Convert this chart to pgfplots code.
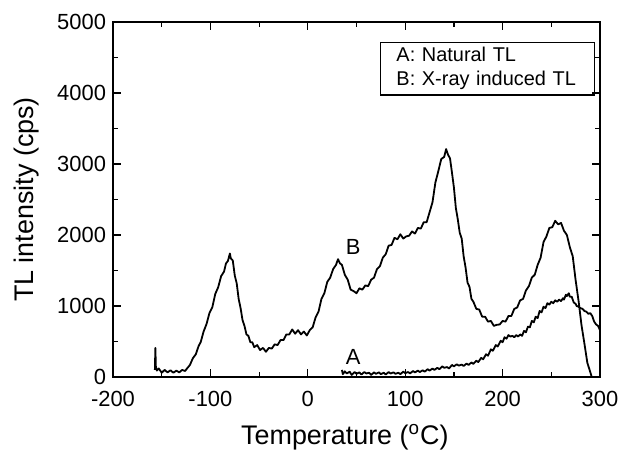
\documentclass[border=0pt]{standalone}
\usepackage{pgfplots}
\pgfplotsset{compat=1.18}
\usepackage{fontspec}
\setmainfont{Liberation Sans}
\begin{document}
\begin{tikzpicture}
\begin{axis}[name=ax,
  scale only axis, width=243.5bp, height=177.5bp,
  xmin=-200, xmax=300, ymin=0, ymax=5000,
  xtick={-200,-100,0,100,200,300},
  ytick={0,1000,2000,3000,4000,5000},
  minor x tick num=1, minor y tick num=1,
  major tick length=4bp, minor tick length=2.5bp,
  tick align=inside, tick pos=both,
  axis line style={line width=0.6bp},
  every tick/.style={line width=0.6bp, black},
  /pgf/number format/assume math mode=true,
  /pgf/number format/1000 sep={},
  ticklabel style={font=\fontsize{11}{13}\selectfont},
  xticklabel style={yshift=-3.5bp},
  xlabel={Temperature ($^{\mathrm{o}}$C)},
  ylabel={TL intensity (cps)},
  every axis x label/.style={at={(axis description cs:0.476,-0.169)},anchor=center,font=\fontsize{13.5}{16}\selectfont},
  every axis y label/.style={at={(axis description cs:-0.177,0.5)},anchor=center,rotate=90,font=\fontsize{13.5}{16}\selectfont},
]
\addplot[black, line width=0.9bp, line join=round] coordinates {
(-157,100) (-156.5,410) (-156,150) (-155,90) (-153,120) (-150,60) (-147,100) (-144,65) (-141,95) (-138,60) (-135,90) (-132,65) (-129,100) (-126,85) (-124,120) (-121,170) (-118,265) (-115,320) (-112,440) (-110,490) (-107,640) (-104,745) (-101,900) (-98,985) (-95,1170) (-92,1265) (-89,1420) (-86,1485) (-84,1600) (-82,1635) (-80,1740) (-79,1670) (-77,1640) (-75,1430) (-73,1320) (-71,1100) (-69,970) (-67,800) (-65,720) (-63,600) (-61,580) (-59,490) (-57,490) (-55,420) (-52,450) (-49,380) (-46,410) (-43,355) (-40,410) (-37,400) (-34,460) (-31,450) (-28,520) (-25,520) (-22,600) (-19,600) (-16,670) (-13,610) (-10,660) (-7,600) (-4,640) (-1,585) (2,660) (5,700) (8,840) (11,920) (14,1100) (17,1180) (20,1340) (23,1400) (26,1520) (29,1580) (31,1660) (33,1600) (35,1580) (38,1440) (41,1370) (44,1230) (47,1210) (50,1180) (53,1250) (56,1230) (59,1290) (62,1280) (65,1370) (68,1400) (71,1520) (74,1560) (77,1680) (80,1730) (83,1850) (86,1860) (89,1960) (92,1940) (95,2010) (98,1950) (101,1980) (104,1990) (107,2050) (110,2020) (113,2100) (116,2090) (119,2180) (122,2180) (125,2320) (128,2460) (131,2740) (134,2900) (137,3070) (140,3100) (142,3210) (144,3130) (146,3080) (148,2880) (150,2670) (152,2380) (154,2220) (156,2030) (158,1950) (160,1700) (162,1540) (164,1330) (166,1270) (168,1100) (170,1060) (173,960) (176,950) (179,850) (182,850) (185,780) (188,790) (191,720) (194,735) (197,740) (200,790) (203,780) (206,860) (209,860) (212,960) (215,980) (218,1080) (221,1100) (224,1220) (227,1280) (230,1400) (233,1440) (236,1580) (239,1680) (242,1900) (245,1980) (248,2100) (251,2110) (254,2200) (257,2150) (260,2170) (263,2060) (266,2000) (269,1830) (272,1700) (275,1360) (278,1070) (281,730) (284,470) (287,200) (290,70) (291.5,0)
};
\addplot[black, line width=0.9bp, line join=round] coordinates {
(35,100) (36,40) (38,80) (40,50) (43,75) (45,30) (48,70) (50,45) (53,65) (55,35) (58,70) (60,50) (63,60) (65,30) (68,65) (70,45) (73,65) (75,40) (78,60) (80,35) (83,70) (85,50) (88,65) (90,45) (93,60) (95,40) (98,75) (100,55) (103,70) (105,50) (108,85) (110,65) (113,90) (115,70) (118,95) (120,75) (123,110) (125,90) (128,120) (130,100) (133,130) (135,110) (138,150) (140,130) (143,140) (145,120) (148,170) (150,150) (153,180) (155,160) (158,175) (160,155) (163,190) (165,170) (168,205) (170,185) (173,230) (175,210) (178,270) (180,250) (183,320) (185,300) (188,390) (190,370) (193,450) (195,430) (198,510) (200,490) (202,560) (204,540) (206,590) (208,570) (210,580) (212,560) (214,590) (216,570) (218,600) (220,580) (222,650) (224,630) (226,710) (228,700) (230,790) (232,770) (234,850) (236,830) (238,930) (240,910) (242,990) (244,970) (246,1040) (248,1020) (250,1060) (252,1040) (254,1080) (256,1060) (258,1090) (260,1070) (262,1110) (263,1090) (265,1160) (266,1140) (268,1180) (269,1130) (271,1130) (273,1050) (275,1030) (276,1000) (278,990) (280,970) (282,960) (284,930) (286,920) (288,890) (290,900) (292,860) (294,780) (296,740) (298,720) (300,660)
};
\node[font=\fontsize{11}{13}\selectfont] at (axis cs:46.5,1835) {B};
\node[font=\fontsize{11}{13}\selectfont] at (axis cs:46.5,286) {A};
\node[draw, line width=0.6bp, anchor=north west, inner xsep=8bp, inner ysep=2.5bp, align=left, font=\fontsize{10}{12}\selectfont, text width=91bp, minimum height=25bp] at (rel axis cs:0.548,0.944) {A: Natural TL\\B: X-ray induced TL};
\end{axis}
\pgfresetboundingbox
\path[use as bounding box] ([xshift=-56.5bp,yshift=-39bp]ax.south west) rectangle ([xshift=10bp,yshift=11bp]ax.north east);
\end{tikzpicture}
\end{document}
